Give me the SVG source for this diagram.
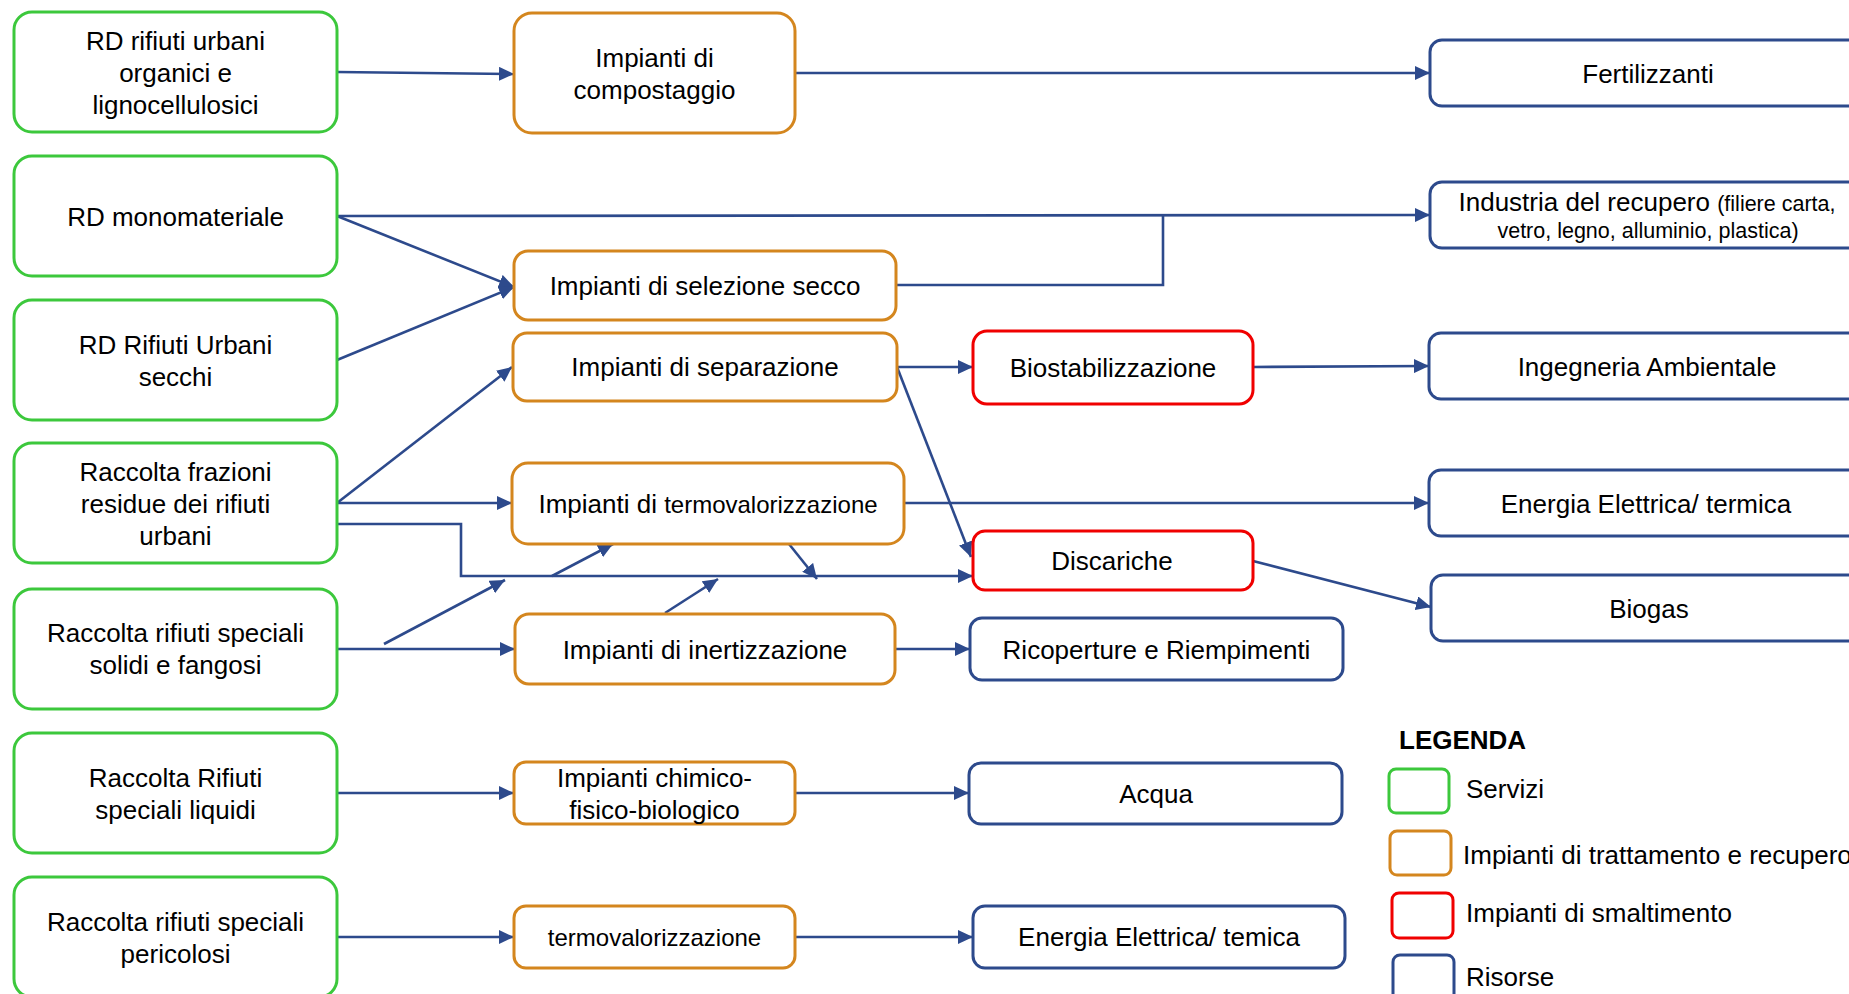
<svg xmlns="http://www.w3.org/2000/svg" width="1849" height="994" viewBox="0 0 1849 994">
<style>
text{font-family:"Liberation Sans",Arial,sans-serif;font-size:26px;fill:#000;text-anchor:middle}
.g{fill:#fff;stroke:#3CC83C;stroke-width:3}
.o{fill:#fff;stroke:#D4861E;stroke-width:3}
.r{fill:#fff;stroke:#F00000;stroke-width:3}
.b{fill:#fff;stroke:#2D4A8C;stroke-width:3}
.s{font-size:21.5px}
.t{font-size:24px}
.lg{text-anchor:start}
.c{fill:none;stroke:#2D4A8C;stroke-width:2.6}
.a{marker-end:url(#ar)}
</style>
<defs>
<marker id="ar" markerUnits="userSpaceOnUse" markerWidth="16" markerHeight="14" refX="15" refY="7" orient="auto">
<path d="M0,0 L15,7 L0,14 z" fill="#2D4A8C"/>
</marker>
</defs>
<rect width="1849" height="994" fill="#fff"/>

<g id="connectors">
<path class="c a" d="M337,72 L514,74"/>
<path class="c a" d="M795,73 L1430,73"/>
<path class="c a" d="M337,216 L1430,215"/>
<path class="c a" d="M337,216 L514,287"/>
<path class="c a" d="M337,360 L514,287"/>
<path class="c" d="M896,285 H1163 V215"/>
<path class="c a" d="M337,503 L512,367"/>
<path class="c a" d="M337,503 L512,503"/>
<path class="c a" d="M337,524 H461 V576 H973"/>
<path class="c a" d="M384,644 L505,580"/>
<path class="c a" d="M337,649 L515,649"/>
<path class="c a" d="M552,576 L613,544"/>
<path class="c a" d="M789,544 L817,579"/>
<path class="c a" d="M665,613 L718,579"/>
<path class="c a" d="M897,367 L973,367"/>
<path class="c a" d="M897,367 L971,557"/>
<path class="c a" d="M904,503 L1429,503"/>
<path class="c a" d="M1253,367 L1429,366"/>
<path class="c a" d="M1253,561 L1431,607"/>
<path class="c a" d="M895,649 L970,649"/>
<path class="c a" d="M337,793 L514,793"/>
<path class="c a" d="M795,793 L969,793"/>
<path class="c a" d="M337,937 L514,937"/>
<path class="c a" d="M795,937 L973,937"/>
</g>

<g id="n-rd-organici"><rect class="g" x="14" y="12" width="323" height="120" rx="18"/>
<text x="175.5" y="49.5">RD rifiuti urbani</text><text x="175.5" y="81.5">organici e</text><text x="175.5" y="113.5">lignocellulosici</text></g>
<g id="n-rd-mono"><rect class="g" x="14" y="156" width="323" height="120" rx="18"/>
<text x="175.5" y="225.5">RD monomateriale</text></g>
<g id="n-rd-secchi"><rect class="g" x="14" y="300" width="323" height="120" rx="18"/>
<text x="175.5" y="353.5">RD Rifiuti Urbani</text><text x="175.5" y="385.5">secchi</text></g>
<g id="n-residue"><rect class="g" x="14" y="443" width="323" height="120" rx="18"/>
<text x="175.5" y="480.5">Raccolta frazioni</text><text x="175.5" y="512.5">residue dei rifiuti</text><text x="175.5" y="544.5">urbani</text></g>
<g id="n-solidi"><rect class="g" x="14" y="589" width="323" height="120" rx="18"/>
<text x="175.5" y="642">Raccolta rifiuti speciali</text><text x="175.5" y="674">solidi e fangosi</text></g>
<g id="n-liquidi"><rect class="g" x="14" y="733" width="323" height="120" rx="18"/>
<text x="175.5" y="786.5">Raccolta Rifiuti</text><text x="175.5" y="818.5">speciali liquidi</text></g>
<g id="n-pericolosi"><rect class="g" x="14" y="877" width="323" height="120" rx="18"/>
<text x="175.5" y="930.5">Raccolta rifiuti speciali</text><text x="175.5" y="962.5">pericolosi</text></g>

<g id="n-compostaggio"><rect class="o" x="514" y="13" width="281" height="120" rx="18"/>
<text x="654.5" y="66.5">Impianti di</text><text x="654.5" y="98.5">compostaggio</text></g>
<g id="n-selezione"><rect class="o" x="514" y="251" width="382" height="69" rx="14"/>
<text x="705" y="295">Impianti di selezione secco</text></g>
<g id="n-separazione"><rect class="o" x="513" y="333" width="384" height="68" rx="14"/>
<text x="705" y="376">Impianti di separazione</text></g>
<g id="n-termo"><rect class="o" x="512" y="463" width="392" height="81" rx="16"/>
<text x="708" y="513">Impianti di <tspan class="t">termovalorizzazione</tspan></text></g>
<g id="n-inertizzazione"><rect class="o" x="515" y="614" width="380" height="70" rx="14"/>
<text x="705" y="658.5">Impianti di inertizzazione</text></g>
<g id="n-chimico"><rect class="o" x="514" y="762" width="281" height="62" rx="12"/>
<text x="654.5" y="786.5">Impianti chimico-</text><text x="654.5" y="818.5">fisico-biologico</text></g>
<g id="n-termo2"><rect class="o" x="514" y="906" width="281" height="62" rx="12"/>
<text class="t" x="654.5" y="945.5">termovalorizzazione</text></g>

<g id="n-biostab"><rect class="r" x="973" y="331" width="280" height="73" rx="14"/>
<text x="1113" y="376.5">Biostabilizzazione</text></g>
<g id="n-discariche"><rect class="r" x="973" y="531" width="280" height="59" rx="12"/>
<text x="1112" y="570">Discariche</text></g>

<g id="n-fertilizzanti"><rect class="b" x="1430" y="40" width="440" height="66" rx="12"/>
<text x="1648" y="82.5">Fertilizzanti</text></g>
<g id="n-industria"><rect class="b" x="1430" y="182" width="440" height="66" rx="12"/>
<text x="1647" y="211">Industria del recupero <tspan class="s">(filiere carta,</tspan></text><text class="s" x="1648" y="238">vetro, legno, alluminio, plastica)</text></g>
<g id="n-ingegneria"><rect class="b" x="1429" y="333" width="440" height="66" rx="12"/>
<text x="1647" y="375.5">Ingegneria Ambientale</text></g>
<g id="n-energia"><rect class="b" x="1429" y="470" width="440" height="66" rx="12"/>
<text x="1646" y="512.5">Energia Elettrica/ termica</text></g>
<g id="n-biogas"><rect class="b" x="1431" y="575" width="440" height="66" rx="12"/>
<text x="1649" y="617.5">Biogas</text></g>
<g id="n-ricoperture"><rect class="b" x="970" y="618" width="373" height="62" rx="12"/>
<text x="1156.5" y="658.5">Ricoperture e Riempimenti</text></g>
<g id="n-acqua"><rect class="b" x="969" y="763" width="373" height="61" rx="12"/>
<text x="1156" y="802.5">Acqua</text></g>
<g id="n-energia2"><rect class="b" x="973" y="906" width="372" height="62" rx="12"/>
<text x="1159" y="946">Energia Elettrica/ temica</text></g>

<g id="legend">
<text class="lg" x="1399" y="749" font-weight="bold">LEGENDA</text>
<rect class="g" x="1389" y="769" width="60" height="44" rx="7"/>
<text class="lg" x="1466" y="798">Servizi</text>
<rect class="o" x="1390" y="831" width="61" height="44" rx="7"/>
<text class="lg" x="1463" y="864">Impianti di trattamento e recupero</text>
<rect class="r" x="1392" y="893" width="61" height="45" rx="7"/>
<text class="lg" x="1466" y="922">Impianti di smaltimento</text>
<rect class="b" x="1393" y="955" width="61" height="50" rx="7"/>
<text class="lg" x="1466" y="986">Risorse</text>
</g>
</svg>
